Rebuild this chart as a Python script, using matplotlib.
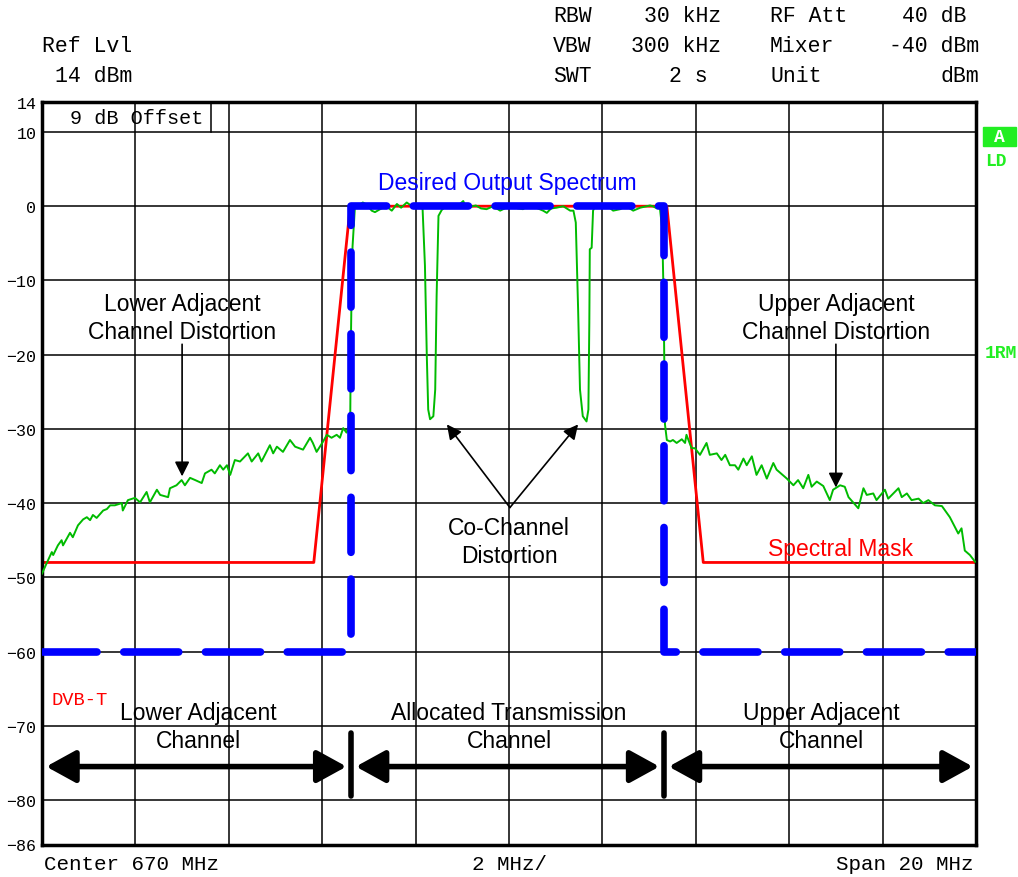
import matplotlib.pyplot as plt

MONO = "Liberation Mono"
SANS = "Liberation Sans"

# measured trace (MHz, dBm)
trace_freq = [
    660.00, 660.10, 660.21, 660.24, 660.34, 660.42, 660.45, 660.60, 660.66, 660.77,
    660.88, 660.96, 661.03, 661.09, 661.17, 661.31, 661.39, 661.46, 661.56, 661.71,
    661.73, 661.84, 661.99, 662.10, 662.24, 662.31, 662.46, 662.53, 662.70, 662.74,
    662.88, 662.99, 663.06, 663.17, 663.28, 663.42, 663.49, 663.63, 663.70, 663.81,
    663.88, 663.96, 664.03, 664.13, 664.24, 664.41, 664.49, 664.63, 664.70, 664.88,
    664.95, 665.03, 665.16, 665.31, 665.42, 665.59, 665.74, 665.80, 665.88, 666.02,
    666.10, 666.20, 666.31, 666.38, 666.45, 666.52, 666.60, 666.61, 666.63, 666.65,
    666.70, 666.87, 666.96, 667.06, 667.13, 667.24, 667.37, 667.49, 667.60, 667.69,
    667.81, 667.90, 668.01, 668.09, 668.15, 668.20, 668.24, 668.27, 668.31, 668.38,
    668.42, 668.45, 668.49, 668.56, 668.65, 668.76, 668.88, 668.95, 669.02, 669.08,
    669.16, 669.29, 669.40, 669.52, 669.66, 669.81, 669.94, 670.09, 670.19, 670.30,
    670.45, 670.58, 670.73, 670.81, 670.90, 671.02, 671.16, 671.31, 671.38, 671.43,
    671.48, 671.52, 671.58, 671.66, 671.70, 671.72, 671.73, 671.77, 671.80, 671.84,
    671.95, 672.08, 672.23, 672.38, 672.51, 672.66, 672.81, 672.95, 673.02, 673.08,
    673.17, 673.23, 673.28, 673.31, 673.34, 673.38, 673.45, 673.51, 673.59, 673.70,
    673.77, 673.80, 673.91, 673.98, 674.09, 674.23, 674.30, 674.45, 674.55, 674.63,
    674.73, 674.84, 674.91, 675.02, 675.09, 675.20, 675.30, 675.41, 675.52, 675.66,
    675.73, 675.95, 676.09, 676.19, 676.30, 676.41, 676.48, 676.59, 676.73, 676.87,
    676.94, 677.09, 677.19, 677.27, 677.48, 677.59, 677.66, 677.80, 677.87, 678.05,
    678.12, 678.34, 678.41, 678.52, 678.62, 678.77, 678.87, 678.98, 679.12, 679.27,
    679.44, 679.62, 679.69, 679.76, 679.87, 679.98,
]
trace_level = [
    -49.5, -48.1, -46.6, -47.0, -45.7, -45.0, -45.7, -44.0, -44.6, -43.0,
    -42.2, -41.9, -42.3, -41.6, -42.0, -41.0, -40.8, -40.3, -40.3, -40.0,
    -41.0, -39.6, -39.3, -39.9, -38.5, -39.9, -38.2, -38.9, -39.2, -38.0,
    -37.6, -36.9, -37.6, -36.6, -36.9, -37.3, -36.0, -35.5, -36.0, -34.9,
    -35.5, -34.9, -36.2, -34.2, -34.4, -33.3, -34.4, -33.3, -34.4, -32.2,
    -33.3, -32.4, -33.1, -31.5, -32.4, -32.8, -31.2, -31.9, -33.1, -31.7,
    -30.8, -31.2, -30.8, -31.2, -29.9, -30.5, -29.2, -20.2, -11.2, -5.4,
    -0.2, 0.5, 0.2, -0.6, -0.8, -0.4, 0.0, -0.6, 0.3, -0.2,
    0.5, 0.1, -0.2, 0.0, -0.4, -8.0, -20.2, -27.4, -28.7, -28.3,
    -24.7, -12.1, -1.3, -0.5, 0.0, 0.3, -0.1, 0.3, 0.7, -0.2,
    -0.1, 0.1, -0.3, -0.4, 0.0, -0.6, -0.2, 0.0, -0.3, -0.4,
    0.3, -0.2, -0.6, -0.9, -0.3, -0.2, 0.0, -0.6, -0.6, -2.2,
    -13.9, -24.7, -28.3, -29.0, -27.4, -15.7, -5.8, -5.6, -0.6, 0.0,
    -0.2, 0.2, -0.6, -0.4, 0.0, -0.6, -0.2, 0.0, 0.1, 0.0,
    -0.3, -0.2, -3.0, -12.0, -29.4, -31.5, -31.7, -31.5, -31.9, -31.4,
    -31.9, -30.8, -32.6, -32.6, -33.5, -31.9, -33.5, -33.3, -34.2, -33.5,
    -34.9, -34.9, -35.5, -34.0, -34.9, -33.7, -36.2, -34.9, -36.7, -34.6,
    -35.5, -36.7, -37.6, -36.9, -38.0, -36.2, -37.8, -37.1, -37.7, -39.6,
    -38.2, -37.6, -37.8, -39.2, -40.7, -38.0, -38.9, -38.7, -39.6, -38.2,
    -39.4, -38.0, -39.2, -38.7, -39.6, -39.4, -40.0, -39.6, -40.3, -40.4,
    -41.9, -44.1, -43.4, -46.4, -47.0, -47.9,
]

# spectral mask
mask_freq = [660.0, 665.82, 666.60, 673.38, 674.16, 680.0]
mask_level = [-48, -48, 0, 0, -48, -48]

# desired output spectrum
desired_freq = [660.0, 666.62, 666.62, 673.32, 673.32, 680.0]
desired_level = [-60, -60, 0, 0, -60, -60]

# channel boundaries
chan_lo, chan_hi = 666.62, 673.32

yticks = [14, 10, 0, -10, -20, -30, -40, -50, -60, -70, -80, -86]
ytick_labels = [str(v).replace("-", "\u2212") for v in yticks]

header_left = [("RBW", "30 kHz", 721), ("VBW", "300 kHz", 721), ("SWT", "2 s", 708)]
header_right = [("RF Att", "40 dB", 966), ("Mixer", "-40 dBm", 979), ("Unit", "dBm", 979)]
header_rows = [17, 47, 77]

W, H = 1018, 878
fig = plt.figure(figsize=(W / 100, H / 100), dpi=100)
ax = fig.add_axes([42 / W, 1 - 845.5 / H, 934 / W, 742.2 / H])


def ftext(x, y, s, **kw):
    fig.text(x / W, 1 - y / H, s, va="center", **kw)


# grid
for f in range(662, 680, 2):
    ax.axvline(f, color="black", lw=1.1, zorder=1)
for lv in range(-80, 20, 10):
    ax.axhline(lv, color="black", lw=1.1, zorder=1)

ax.plot(mask_freq, mask_level, color="#ff0000", lw=2.0, zorder=2)
ax.plot(trace_freq, trace_level, color="#00bb00", lw=1.4, zorder=3)
ax.plot(desired_freq, desired_level, color="#0000ff", lw=5.5, zorder=4,
        dashes=(7.2, 3.5), dash_capstyle="round", solid_joinstyle="miter")

ax.set_xlim(660, 680)
ax.set_ylim(-86, 14)
ax.set_xticks([])
ax.set_yticks(yticks)
ax.set_yticklabels(ytick_labels, fontfamily=MONO, fontsize=12)
ax.tick_params(axis="y", length=0, pad=4)
for sp in ax.spines.values():
    sp.set_linewidth(2.5)

# offset box
ax.plot([663.62, 663.62], [10, 14], color="black", lw=1.1)
ax.text(660.6, 12, "9 dB Offset", fontfamily=MONO, fontsize=14.5, va="center")

# annotation labels
label = dict(fontfamily=SANS, fontsize=16.5, ha="center", va="center", linespacing=1.3)
ax.text(669.96, 3.2, "Desired Output Spectrum", color="#0000ff", **label)
ax.text(663.0, -15, "Lower Adjacent\nChannel Distortion", **label)
ax.text(677.0, -15, "Upper Adjacent\nChannel Distortion", **label)
ax.text(670.0, -45.2, "Co-Channel\nDistortion", **label)
ax.text(677.1, -46.1, "Spectral Mask", color="#ff0000", **label)
ax.text(663.34, -70.1, "Lower Adjacent\nChannel", **label)
ax.text(670.0, -70.1, "Allocated Transmission\nChannel", **label)
ax.text(676.68, -70.1, "Upper Adjacent\nChannel", **label)
ax.text(660.21, -66.4, "DVB-T", color="#ff0000", fontfamily=MONO, fontsize=13.5,
        va="center")

pointer = dict(arrowstyle="-|>", color="black", lw=1.2, mutation_scale=22,
               shrinkA=0, shrinkB=0)
ax.annotate("", xy=(663.0, -36.4), xytext=(663.0, -18.6), arrowprops=pointer)
ax.annotate("", xy=(677.0, -37.9), xytext=(677.0, -18.6), arrowprops=pointer)
ax.annotate("", xy=(668.67, -29.4), xytext=(670.02, -40.6), arrowprops=pointer)
ax.annotate("", xy=(671.48, -29.4), xytext=(670.02, -40.6), arrowprops=pointer)

# channel span arrows
span = dict(arrowstyle="<|-|>,head_length=0.6,head_width=0.33", color="black", lw=4,
            mutation_scale=30, shrinkA=0, shrinkB=0)
ax.annotate("", xy=(660.09, -75.5), xytext=(chan_lo - 0.1, -75.5), arrowprops=span)
ax.annotate("", xy=(chan_lo + 0.1, -75.5), xytext=(chan_hi - 0.1, -75.5), arrowprops=span)
ax.annotate("", xy=(chan_hi + 0.1, -75.5), xytext=(679.93, -75.5), arrowprops=span)
for f in (chan_lo, chan_hi):
    ax.plot([f, f], [-71.0, -79.4], color="black", lw=4, solid_capstyle="round")

# instrument header
ftext(42, 47, "Ref Lvl", fontfamily=MONO, fontsize=15.5)
ftext(55, 77, "14 dBm", fontfamily=MONO, fontsize=15.5)
for (name, val, xr), y in zip(header_left, header_rows):
    ftext(553, y, name, fontfamily=MONO, fontsize=15.5)
    ftext(xr, y, val, fontfamily=MONO, fontsize=15.5, ha="right")
for (name, val, xr), y in zip(header_right, header_rows):
    ftext(770, y, name, fontfamily=MONO, fontsize=15.5)
    ftext(xr, y, val, fontfamily=MONO, fontsize=15.5, ha="right")

# footer
ftext(44, 865, "Center 670 MHz", fontfamily=MONO, fontsize=15)
ftext(510, 865, "2 MHz/", fontfamily=MONO, fontsize=15, ha="center")
ftext(974, 865, "Span 20 MHz", fontfamily=MONO, fontsize=15, ha="right")

# side markers
fig.patches.append(plt.Rectangle((983 / W, 1 - 147 / H), 33 / W, 19 / H,
                                 transform=fig.transFigure, color="#22ee22"))
ftext(999.5, 137.5, "A", fontfamily=MONO, fontsize=13, fontweight="bold",
      color="white", ha="center")
ftext(985, 161, "LD", fontfamily=MONO, fontsize=13, fontweight="bold", color="#22ee22")
ftext(985, 354, "1RM", fontfamily=MONO, fontsize=13, fontweight="bold", color="#22ee22")

fig.savefig("out.png", dpi=100)
